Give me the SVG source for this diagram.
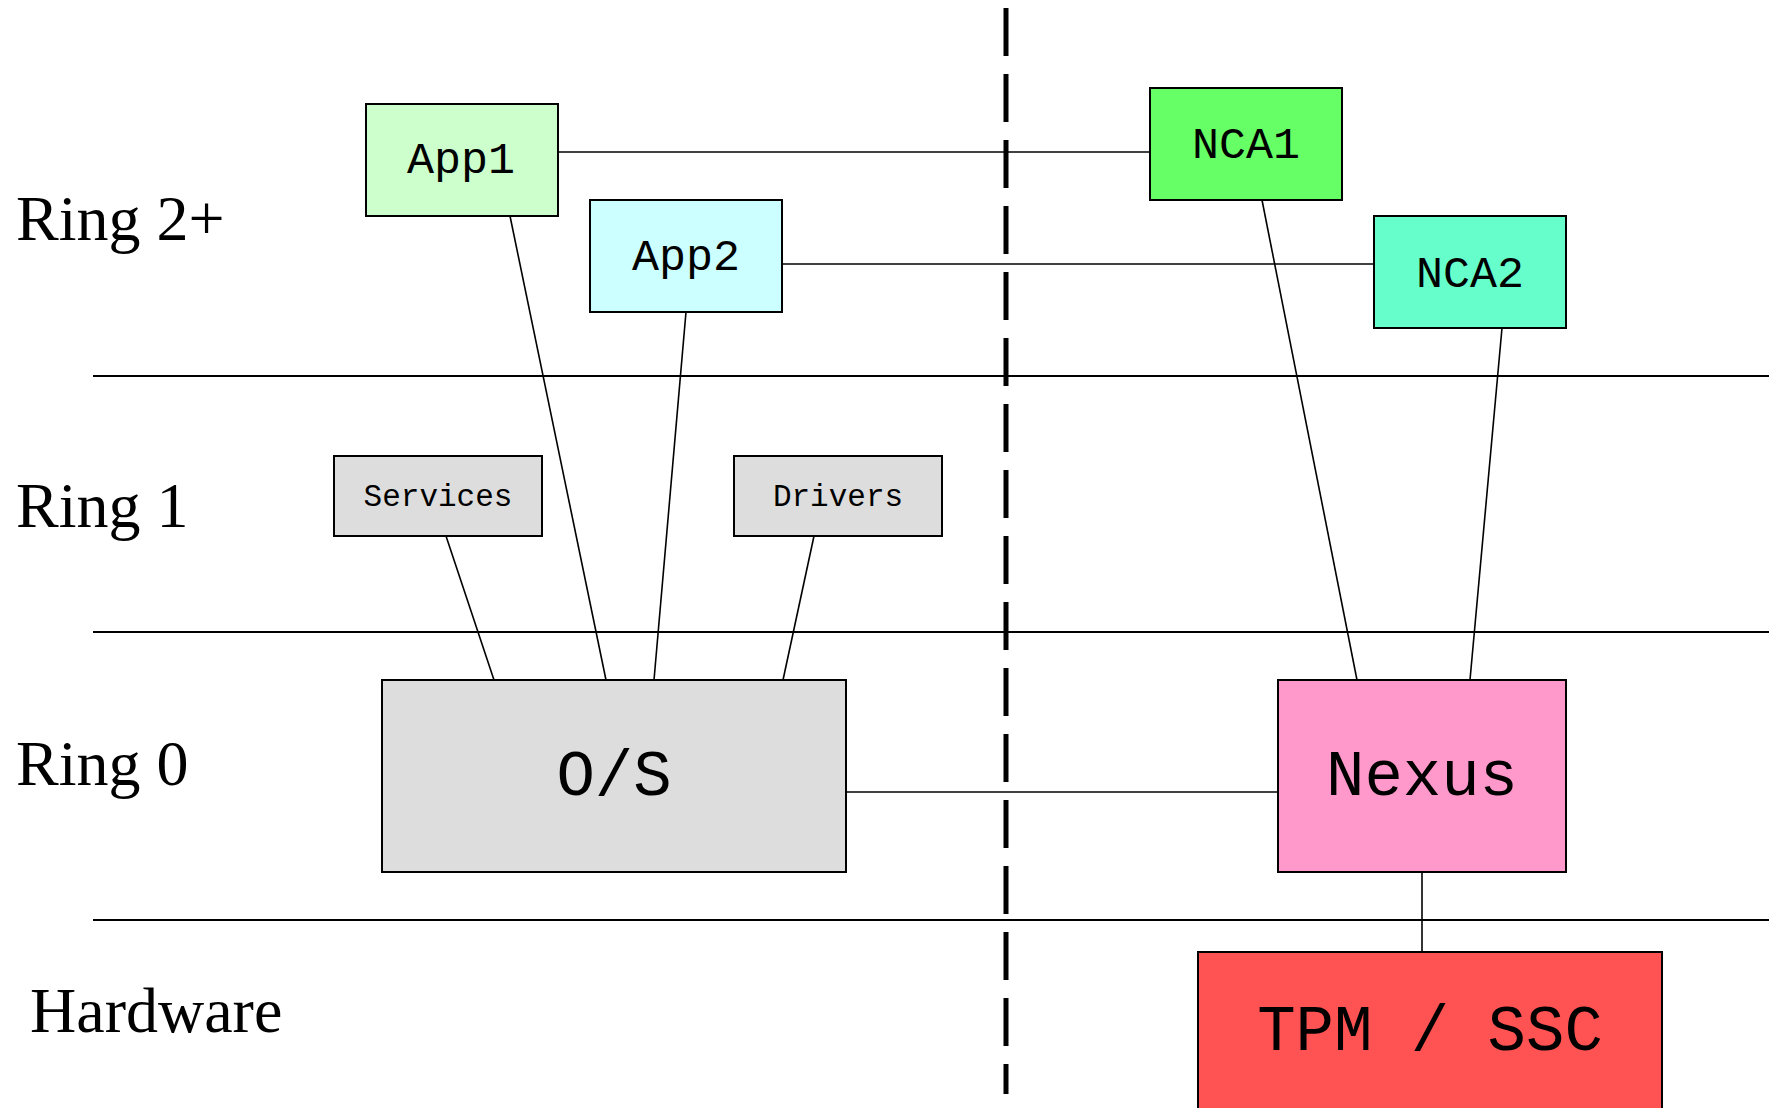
<svg xmlns="http://www.w3.org/2000/svg" width="1769" height="1108" viewBox="0 0 1769 1108">
  <style>
    .box { stroke: #000; stroke-width: 2; }
    .wire { stroke: #000; stroke-width: 1.6; fill: none; }
    .ring { stroke: #000; stroke-width: 1.8; }
    .mono { font-family: "Liberation Mono", "Courier New", monospace; fill: #000; text-anchor: middle; }
    .serif { font-family: "Liberation Serif", "Times New Roman", serif; fill: #000; font-size: 64px; }
    .sm { font-size: 31px; }
    .md { font-size: 45px; }
    .lg { font-size: 64px; }
  </style>

  <rect width="1769" height="1108" fill="#fff"/>

  <!-- ring boundaries -->
  <g id="ring-lines">
    <line class="ring" x1="93" y1="376" x2="1769" y2="376"/>
    <line class="ring" x1="93" y1="632" x2="1769" y2="632"/>
    <line class="ring" x1="93" y1="920" x2="1769" y2="920"/>
  </g>

  <!-- trust boundary -->
  <line id="boundary" x1="1006" y1="8" x2="1006" y2="1094" stroke="#000" stroke-width="5" stroke-dasharray="48 18"/>

  <!-- ring labels -->
  <g id="labels">
    <text class="serif" x="16" y="240">Ring 2+</text>
    <text class="serif" x="16" y="527">Ring 1</text>
    <text class="serif" x="16" y="785">Ring 0</text>
    <text class="serif" x="30" y="1032">Hardware</text>
  </g>

  <!-- connectors -->
  <g id="connectors">
    <line class="wire" x1="558" y1="152" x2="1150" y2="152"/>
    <line class="wire" x1="782" y1="264" x2="1374" y2="264"/>
    <line class="wire" x1="510" y1="216" x2="606" y2="680"/>
    <line class="wire" x1="686" y1="312" x2="654" y2="680"/>
    <line class="wire" x1="446" y1="536" x2="494" y2="680"/>
    <line class="wire" x1="814" y1="536" x2="783" y2="680"/>
    <line class="wire" x1="846" y1="792" x2="1278" y2="792"/>
    <line class="wire" x1="1262" y1="200" x2="1357" y2="680"/>
    <line class="wire" x1="1502" y1="328" x2="1470" y2="680"/>
    <line class="wire" x1="1422" y1="872" x2="1422" y2="952"/>
  </g>

  <g id="app1">
    <rect class="box" x="366" y="104" width="192" height="112" fill="#ccffcc"/>
    <text class="mono md" x="461" y="173">App1</text>
  </g>
  <g id="app2">
    <rect class="box" x="590" y="200" width="192" height="112" fill="#ccffff"/>
    <text class="mono md" x="686" y="270">App2</text>
  </g>
  <g id="nca1">
    <rect class="box" x="1150" y="88" width="192" height="112" fill="#66ff66"/>
    <text class="mono md" x="1246" y="158">NCA1</text>
  </g>
  <g id="nca2">
    <rect class="box" x="1374" y="216" width="192" height="112" fill="#66ffcc"/>
    <text class="mono md" x="1470" y="287">NCA2</text>
  </g>
  <g id="services">
    <rect class="box" x="334" y="456" width="208" height="80" fill="#dddddd"/>
    <text class="mono sm" x="438" y="506">Services</text>
  </g>
  <g id="drivers">
    <rect class="box" x="734" y="456" width="208" height="80" fill="#dddddd"/>
    <text class="mono sm" x="838" y="506">Drivers</text>
  </g>
  <g id="os">
    <rect class="box" x="382" y="680" width="464" height="192" fill="#dddddd"/>
    <text class="mono lg" x="614" y="795">O/S</text>
  </g>
  <g id="nexus">
    <rect class="box" x="1278" y="680" width="288" height="192" fill="#ff99cc"/>
    <text class="mono lg" x="1422" y="795">Nexus</text>
  </g>
  <g id="tpm">
    <rect class="box" x="1198" y="952" width="464" height="192" fill="#ff5252"/>
    <text class="mono lg" x="1430" y="1050">TPM / SSC</text>
  </g>
</svg>
